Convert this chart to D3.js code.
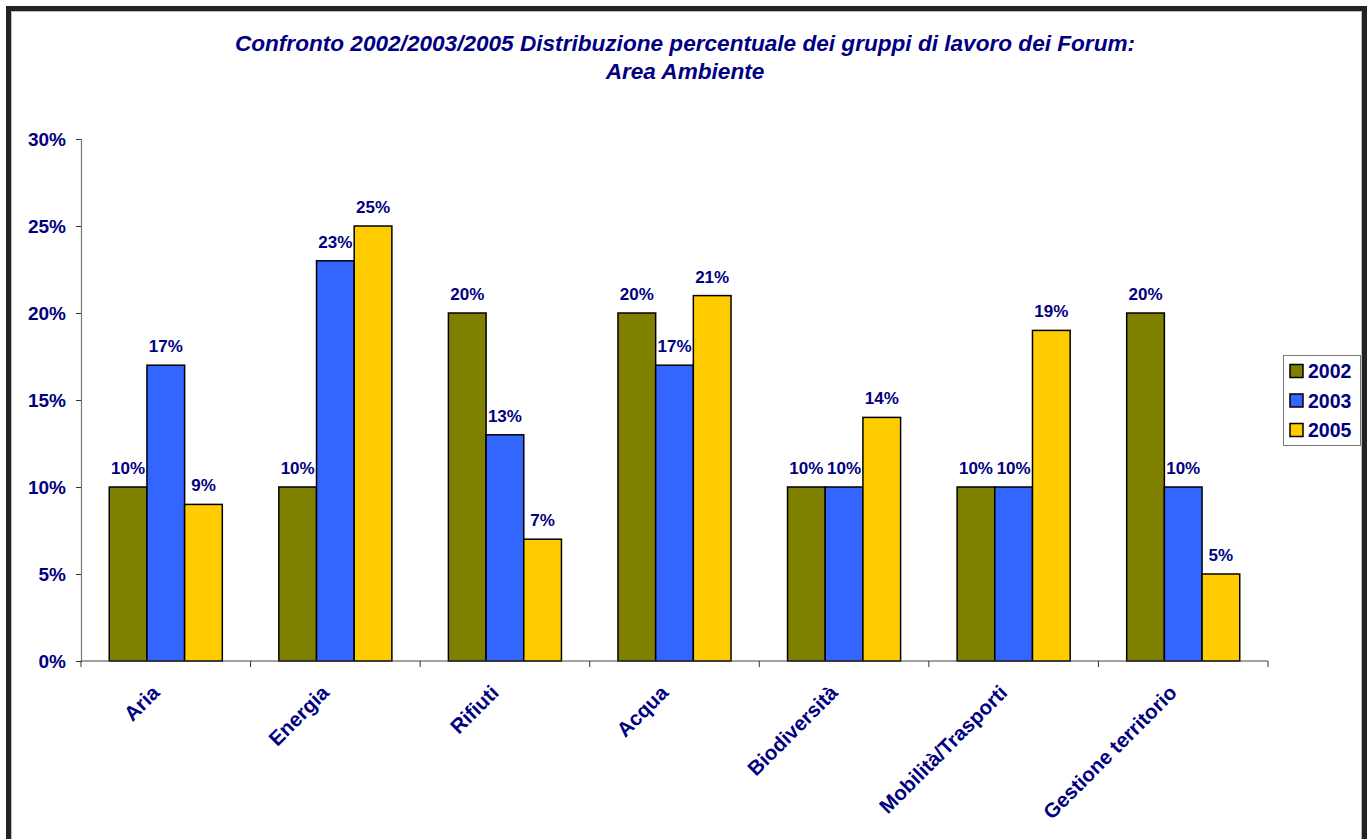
<!DOCTYPE html>
<html><head><meta charset="utf-8">
<script src="https://cdn.jsdelivr.net/npm/d3@7"></script>
<style>html,body{margin:0;padding:0;background:#fff;}svg{display:block;font-family:"Liberation Sans",Arial,sans-serif;}</style>
</head><body>
<svg id="c" width="1372" height="839"></svg>
<script>
const categories = ["Aria","Energia","Rifiuti","Acqua","Biodiversità","Mobilità/Trasporti","Gestione territorio"];
const seriesNames = ["2002","2003","2005"];
const values2002 = [10,10,20,20,10,10,20];
const values2003 = [17,23,13,17,10,10,10];
const values2005 = [9,25,7,21,14,19,5];
const yTicks = [0,5,10,15,20,25,30];
const titleLines = ["Confronto 2002/2003/2005 Distribuzione percentuale dei gruppi di lavoro dei Forum:","Area Ambiente"];
const colors = ["#808000","#3366FF","#FFCC00"];
const series = [values2002, values2003, values2005];

(function(){
const svg = d3.select("#c");
const navy = "#000080";

// frame
svg.append("rect").attr("x",8.5).attr("y",8.5).attr("width",1356).attr("height",900)
  .attr("fill","#fff").attr("stroke","#222").attr("stroke-width",5);
svg.append("rect").attr("x",11.5).attr("y",11.5).attr("width",1350).attr("height",900)
  .attr("fill","none").attr("stroke","#bbb").attr("stroke-width",1);

// title
const title = svg.append("text").attr("text-anchor","middle").attr("fill",navy)
  .attr("font-weight","bold").attr("font-style","italic").attr("font-size",22.6);
titleLines.forEach((t,i)=>title.append("tspan").attr("x",685).attr("y",51+i*28).text(t));

const pL = 81, pR = 1268, pT = 139, pB = 661;
const x = d3.scaleBand().domain(categories).range([pL,pR]).padding(0);
const y = d3.scaleLinear().domain([0,30]).range([pB,pT]);
const bw = x.bandwidth()/4.5;

// y axis
const yAxis = svg.append("g").attr("transform",`translate(${pL},0)`)
  .call(d3.axisLeft(y).tickValues(yTicks).tickFormat(d=>d+"%").tickSize(5).tickPadding(10));
yAxis.select(".domain").attr("stroke","#777").attr("stroke-width",1.2);
yAxis.selectAll(".tick line").attr("stroke","#333");
yAxis.selectAll(".tick text").attr("fill",navy).attr("font-size",19).attr("font-weight","bold")
  .attr("font-family","Liberation Sans, Arial, sans-serif");

// bars
categories.forEach((c,ci)=>{
  series.forEach((s,si)=>{
    const x0 = x(c) + 0.75*bw + si*bw;
    svg.append("rect").attr("x",x0).attr("y",y(s[ci])).attr("width",bw).attr("height",y(0)-y(s[ci]))
      .attr("fill",colors[si]).attr("stroke","#000").attr("stroke-width",1.5);
    svg.append("text").attr("x",x0+bw/2).attr("y",y(s[ci])-13).attr("text-anchor","middle")
      .attr("fill",navy).attr("font-size",17).attr("font-weight","bold").text(s[ci]+"%");
  });
});

// x axis
const xAxisG = svg.append("g").attr("transform",`translate(0,${pB})`);
xAxisG.append("line").attr("x1",pL).attr("x2",pR).attr("y1",0).attr("y2",0).attr("stroke","#444").attr("stroke-width",1.2);
const bounds = categories.map(c=>x(c)).concat([pR]);
bounds.forEach(b=>xAxisG.append("line").attr("x1",b).attr("x2",b).attr("y1",0).attr("y2",6).attr("stroke","#333"));
categories.forEach(c=>{
  const cx = x(c)+x.bandwidth()/2;
  svg.append("text").attr("transform",`translate(${cx-5},${pB+33}) rotate(-45)`)
    .attr("text-anchor","end").attr("fill",navy).attr("font-size",20.5).attr("font-weight","bold").text(c);
});

// legend
const lg = svg.append("g");
lg.append("rect").attr("x",1283.5).attr("y",355.5).attr("width",77).attr("height",90)
  .attr("fill","#fff").attr("stroke","#777").attr("stroke-width",1);
seriesNames.forEach((n,i)=>{
  const cy = 371 + i*29.5;
  lg.append("rect").attr("x",1290).attr("y",cy-6.5).attr("width",13).attr("height",13)
    .attr("fill",colors[i]).attr("stroke","#000").attr("stroke-width",1.5);
  lg.append("text").attr("x",1308).attr("y",cy+7).attr("fill",navy).attr("font-size",19.5)
    .attr("font-weight","bold").text(n);
});
})();
</script>
</body></html>
